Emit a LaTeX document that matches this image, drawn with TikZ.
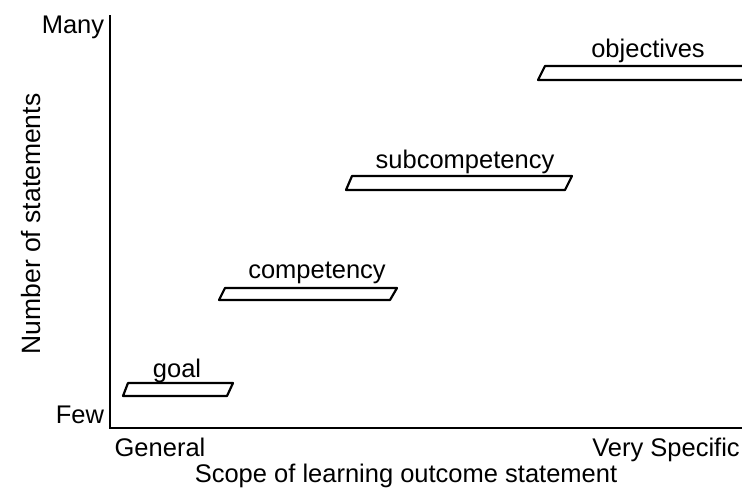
\documentclass[tikz,border=0pt]{standalone}
\usepackage{fontspec}
\setmainfont{Liberation Sans}
\begin{document}
\begin{tikzpicture}[x=1pt,y=-1pt,
  lbl/.style={font=\fontsize{25.5}{28}\selectfont, inner sep=0pt, anchor=base},
  bar/.style={draw=black, line width=2.2pt, line join=round},
  axis/.style={draw=black, line width=2.8pt}]
  \useasboundingbox (0,0) rectangle (742,491);
  % axes
  \coordinate (top) at (110,15);
  \coordinate (origin) at (110,428);
  \coordinate (right) at (742,428);
  \draw[axis] (top) -- (origin) -- (right);
  % axis labels
  \node[lbl] (many) at (73,33) {Many};
  \node[lbl] (few) at (80,423) {Few};
  \node[lbl] (general) at (160,456) {General};
  \node[lbl] (specific) at (666,456) {Very Specific};
  \node[lbl] (xtitle) at (406,482) {Scope of learning outcome statement};
  \node[lbl, anchor=center, rotate=90, font=\fontsize{26.5}{28}\selectfont] (ytitle) at (31,224) {Number of statements};
  % bars
  \draw[bar] (123,396) -- (128,383) -- (233,383) -- (227,396) -- cycle;
  \node[lbl] (goal) at (177,377) {goal};
  \draw[bar] (219,300) -- (225,288) -- (397,288) -- (390,300) -- cycle;
  \node[lbl] (comp) at (317,278) {competency};
  \draw[bar] (346,190) -- (352,176) -- (572,176) -- (565,190) -- cycle;
  \node[lbl] (subcomp) at (465,168) {subcompetency};
  \draw[bar] (538,80) -- (545,66) -- (745,66) -- (745,80) -- cycle;
  \node[lbl] (obj) at (648,57) {objectives};
\end{tikzpicture}
\end{document}
